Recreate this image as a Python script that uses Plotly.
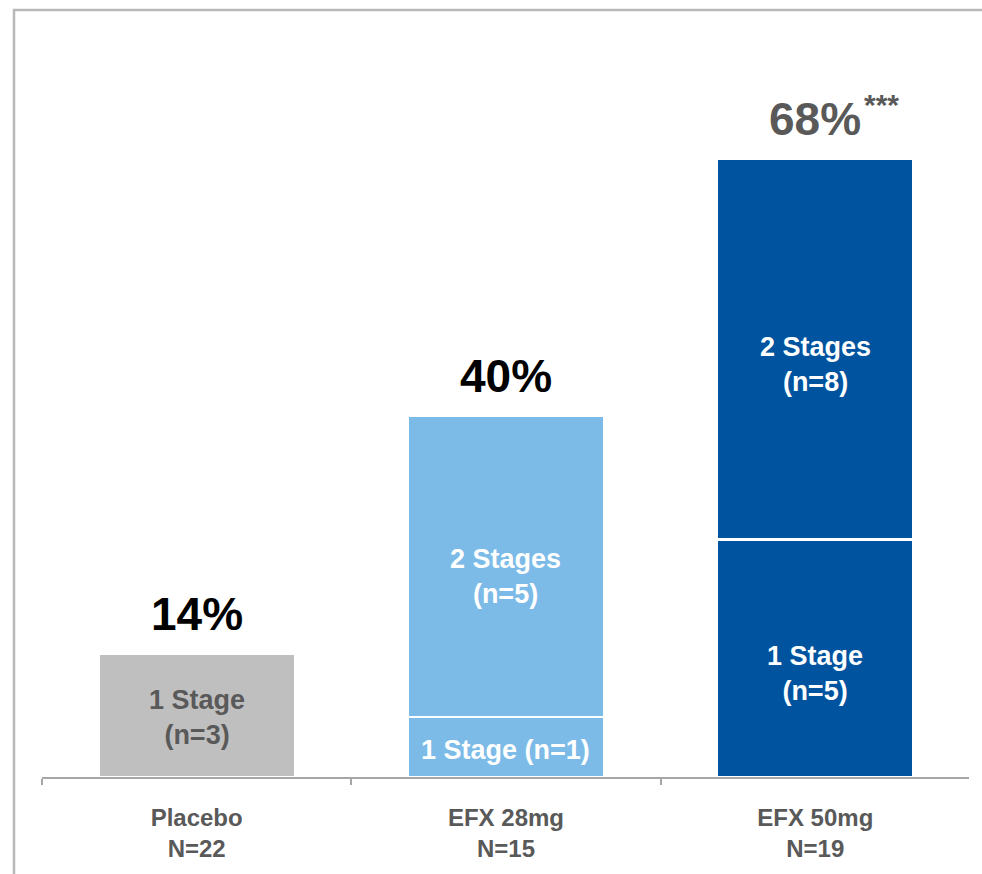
import plotly.graph_objects as go

# ---- data ----
categories = ["Placebo<br>N=22", "EFX 28mg<br>N=15", "EFX 50mg<br>N=19"]
group_n = [22, 15, 19]
one_stage_n = [3, 1, 5]
two_stage_n = [0, 5, 8]
one_stage_labels = ["1 Stage<br>(n=3)", "1 Stage (n=1)", "1 Stage<br>(n=5)"]
two_stage_labels = ["", "2 Stages<br>(n=5)", "2 Stages<br>(n=8)"]
significance = ["", "", "***"]

one_stage_pct = [a / n * 100 for a, n in zip(one_stage_n, group_n)]
two_stage_pct = [b / n * 100 for b, n in zip(two_stage_n, group_n)]
total_pct = [a + b for a, b in zip(one_stage_pct, two_stage_pct)]

# ---- styles ----
bar_colors = ["#bfbfbf", "#7cbbe7", "#00549f"]
seg_text_colors = ["#595959", "#ffffff", "#ffffff"]
total_text_colors = ["#000000", "#000000", "#595959"]
seg1_shift = [-2, -3, -15]
seg2_shift = [0, -10, -15]
FONT = "Liberation Sans, Arial, sans-serif"

fig = go.Figure()
for vals in (one_stage_pct, two_stage_pct):
    fig.add_trace(go.Bar(x=categories, y=vals,
                         marker=dict(color=bar_colors, line=dict(color="white", width=2.5)),
                         width=0.636, hoverinfo="skip"))

ann = []
for i, c in enumerate(categories):
    ann.append(dict(x=c, y=one_stage_pct[i] / 2, text=one_stage_labels[i], showarrow=False,
                    yshift=seg1_shift[i],
                    font=dict(family=FONT, size=27, color=seg_text_colors[i], weight="bold")))
    if two_stage_n[i] > 0:
        ann.append(dict(x=c, y=one_stage_pct[i] + two_stage_pct[i] / 2, text=two_stage_labels[i], showarrow=False,
                        yshift=seg2_shift[i],
                        font=dict(family=FONT, size=27, color=seg_text_colors[i], weight="bold")))
    ann.append(dict(x=c, y=total_pct[i], text=f"{round(total_pct[i])}%", showarrow=False,
                    yanchor="bottom", yshift=12,
                    font=dict(family=FONT, size=46, color=total_text_colors[i], weight="bold")))
    if significance[i]:
        ann.append(dict(x=c, y=total_pct[i], text=significance[i], showarrow=False,
                        xanchor="left", yanchor="bottom", xshift=47, yshift=36,
                        font=dict(family=FONT, size=30, color="#595959", weight="bold")))

# outer frame (cut off at right and bottom)
L, R, T, B = 42, 13, 10, 97
W, H = 982 - L - R, 874 - T - B
def px(p):
    return (p - L) / W
def py(q):
    return (874 - B - q) / H
shapes = [
    dict(type="line", xref="paper", yref="paper", x0=px(13), x1=px(990), y0=py(10), y1=py(10),
         line=dict(color="#b8b8b8", width=2.5)),
    dict(type="line", xref="paper", yref="paper", x0=px(14), x1=px(14), y0=py(9), y1=py(880),
         line=dict(color="#b8b8b8", width=2.5)),
]

fig.update_layout(
    width=982, height=874,
    margin=dict(l=L, r=R, t=T, b=B),
    barmode="stack",
    showlegend=False,
    plot_bgcolor="white", paper_bgcolor="white",
    annotations=ann, shapes=shapes,
    xaxis=dict(type="category", range=[-0.5, 2.497], showline=True, linecolor="#a6a6a6", linewidth=2,
               ticks="outside", tickson="boundaries", ticklen=6, tickwidth=2, tickcolor="#a6a6a6",
               ticklabelstandoff=18, showgrid=False,
               tickfont=dict(family=FONT, size=24, color="#595959", weight="bold")),
    yaxis=dict(range=[0, 84.94], visible=False, showgrid=False, zeroline=False),
)

fig.write_html("out.html")
